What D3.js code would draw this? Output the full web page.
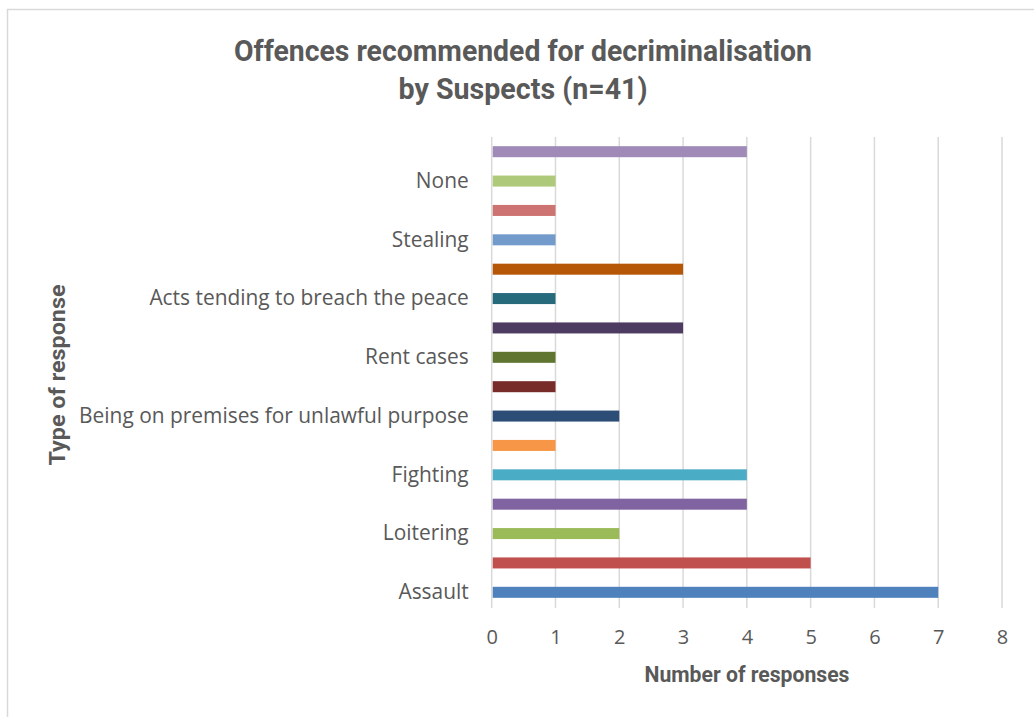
<!DOCTYPE html>
<html><head><meta charset="utf-8">
<script src="https://cdn.jsdelivr.net/npm/d3@7"></script>
<style>body{margin:0;background:#fff}svg{display:block}</style>
</head><body>
<svg id="chart" width="1034" height="717"></svg>
<script>
// Categories bottom-to-top (Excel order); only every other label is shown on the axis
const categories = ["Assault","(unlabelled 1)","Loitering","(unlabelled 2)","Fighting","(unlabelled 3)",
  "Being on premises for unlawful purpose","(unlabelled 4)","Rent cases","(unlabelled 5)",
  "Acts tending to breach the peace","(unlabelled 6)","Stealing","(unlabelled 7)","None","(unlabelled 8)"];
const values = [7,5,2,4,4,1,2,1,1,3,1,3,1,1,1,4];
const colors = ["#4F81BD","#C0504D","#9BBB59","#8064A2","#4BACC6","#F79646","#2C4D75","#772C2A",
  "#5F7530","#4D3B62","#276A7C","#B65708","#729ACA","#CD7371","#AFC97A","#A08BB8"];
const shownLabels = ["Assault","Loitering","Fighting","Being on premises for unlawful purpose","Rent cases","Acts tending to breach the peace","Stealing","None"];
const xTicks = [0,1,2,3,4,5,6,7,8];
const titleLines = ["Offences recommended for decriminalisation","by Suspects (n=41)"];
const xTitle = "Number of responses";
const yTitle = "Type of response";

const svg = d3.select("#chart");
const txt = "#595959";
const cond = "'Roboto', sans-serif";
const body = "'Open Sans', sans-serif";

svg.append("rect").attr("x",7.5).attr("y",9.5).attr("width",1040).attr("height",720)
  .attr("fill","#fff").attr("stroke","#D9D9D9").attr("stroke-width",1.5);

const pLeft = 491.7, pRight = 1002, pTop = 137, pBottom = 607;
const x = d3.scaleLinear().domain([0,8]).range([pLeft,pRight]);
const y = d3.scaleBand().domain(categories).range([pBottom, pTop]).paddingInner(0.625).paddingOuter(0.3125);

// gridlines
svg.append("g").selectAll("line").data(xTicks).join("line")
  .attr("x1",d=>x(d)).attr("x2",d=>x(d)).attr("y1",pTop).attr("y2",pBottom+1)
  .attr("stroke","#D9D9D9").attr("stroke-width",1.5);

// bars
svg.append("g").selectAll("rect").data(categories).join("rect")
  .attr("x",x(0)+1).attr("y",d=>y(d)).attr("height",y.bandwidth())
  .attr("width",(d,i)=>x(values[i])-x(0)-1).attr("fill",(d,i)=>colors[i]);

// x axis tick labels
const xa = svg.append("g").attr("transform",`translate(0,${pBottom})`)
  .call(d3.axisBottom(x).tickValues(xTicks).tickSize(0).tickPadding(23).tickFormat(d3.format("d")));
xa.select(".domain").remove();
xa.selectAll("text").attr("fill",txt).style("font-family",body).style("font-size","20px");

// y axis labels
const ya = svg.append("g").attr("transform",`translate(${pLeft},0)`)
  .call(d3.axisLeft(y).tickSize(0).tickPadding(23).tickFormat(d=>shownLabels.includes(d)?d:""));
ya.select(".domain").remove();
ya.selectAll("text").attr("fill",txt).style("font-family",body).style("font-size","20.9px");

// titles
const tl = [[titleLines[0],61,578],[titleLines[1],99,249]];
svg.append("g").selectAll("text").data(tl).join("text")
  .attr("x",523).attr("y",d=>d[1]).attr("text-anchor","middle")
  .attr("textLength",d=>d[2]).attr("lengthAdjust","spacingAndGlyphs")
  .attr("fill",txt).style("font-family",cond).style("font-weight","bold").style("font-size","30px")
  .text(d=>d[0]);

svg.append("text").attr("x",747).attr("y",682).attr("text-anchor","middle")
  .attr("textLength",205).attr("lengthAdjust","spacingAndGlyphs")
  .attr("fill",txt).style("font-family",cond).style("font-weight","bold").style("font-size","22px").text(xTitle);

svg.append("text").attr("transform","translate(65,375) rotate(-90)").attr("text-anchor","middle")
  .attr("textLength",181).attr("lengthAdjust","spacingAndGlyphs")
  .attr("fill",txt).style("font-family",cond).style("font-weight","bold").style("font-size","22px").text(yTitle);
</script>
</body></html>
